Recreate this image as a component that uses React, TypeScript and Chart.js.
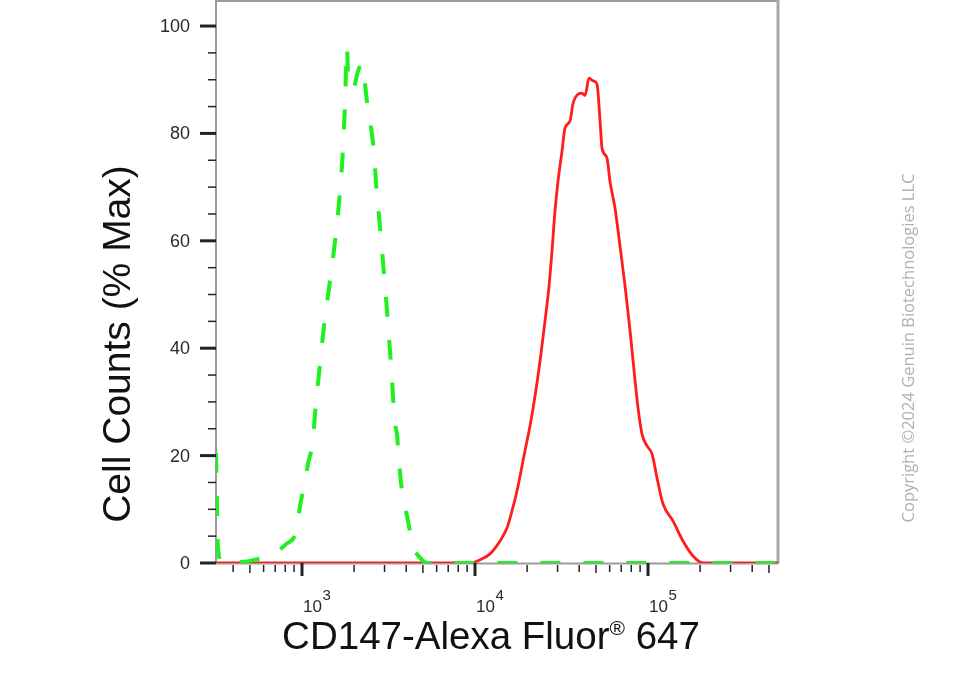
import React, { useEffect, useRef } from "react";
import { Chart, registerables } from "chart.js";

Chart.register(...registerables);

// ---- data ----
const X_MIN = 318.4;
const X_MAX = 564000;
const Y_MIN = 0;
const Y_MAX = 104.66;

const GREEN_X = [318.4, 327, 345, 500, 628, 809, 936, 974, 1027, 1083, 1158, 1189, 1270, 1359, 1452, 1553, 1660, 1727, 1774, 1820, 1845, 1972, 2108, 2223, 2313, 2409, 2507, 2608, 2714, 2787, 2940, 3099, 3267, 3448, 3540, 3636, 3735, 3889, 4101, 4384, 4811, 5279, 564000];
const GREEN_Y = [20.5, 3, 0, 0.4, 1.3, 3.5, 6.5, 10.6, 14.3, 18.4, 23, 27.7, 37, 45.8, 52.5, 60, 69.3, 77.3, 86, 96, 91.2, 88.3, 91.6, 93, 89.2, 84.2, 81, 76.4, 68, 64.6, 56, 47, 37, 26, 24, 19, 15, 11.5, 7.8, 3.2, 1, 0, 0];

const RED_X = [318.4, 9354, 10690, 12210, 13950, 15300, 16360, 17490, 18450, 19450, 20790, 22230, 23760, 25400, 26790, 27860, 28980, 30190, 31840, 33110, 35400, 36810, 39370, 41520, 43250, 45600, 48080, 50700, 52830, 54200, 57950, 60260, 64440, 68890, 73660, 78750, 84180, 87550, 92320, 98700, 105500, 112800, 122100, 139600, 159300, 182000, 208000, 564000];
const RED_Y = [0, 0, 0.6, 1.7, 4.1, 6.5, 9.7, 13.4, 17.1, 20.9, 25.5, 31.1, 37.6, 45.1, 51.6, 58.1, 65.5, 71.1, 76.7, 81.0, 82.3, 85.5, 87.3, 87.5, 87.1, 90.3, 89.8, 89.2, 82.3, 77.3, 75.4, 71.1, 66.1, 59.0, 51.6, 43.2, 33.9, 28.9, 24.0, 21.8, 20.3, 15.8, 11.0, 7.8, 4.1, 1.3, 0, 0];

const X_MAJOR_TICKS = [1000, 10000, 100000];
const X_MAJOR_EXPONENTS = ["3", "4", "5"];
const X_MINOR_TICKS = [400, 500, 600, 700, 800, 900, 2000, 3000, 4000, 5000, 6000, 7000, 8000, 9000, 20000, 30000, 40000, 50000, 60000, 70000, 80000, 90000, 200000, 300000, 400000, 500000];
const Y_MAJOR_TICKS = [0, 20, 40, 60, 80, 100];
const Y_MINOR_TICKS = [5, 10, 15, 25, 30, 35, 45, 50, 55, 65, 70, 75, 85, 90, 95];

const Y_TITLE = "Cell Counts (% Max)";
const X_TITLE_MAIN = "CD147-Alexa Fluor";
const X_TITLE_SUP = "®";
const X_TITLE_END = " 647";
const COPYRIGHT = "Copyright ©2024 Genuin Biotechnologies LLC";

const FONT = '"Liberation Sans", Arial, Helvetica, sans-serif';

const frame = {
  id: "frame",
  beforeDatasetsDraw(chart: any) {
    const { ctx, chartArea: a } = chart;
    ctx.save();
    ctx.strokeStyle = "#9c9c9c";
    ctx.lineWidth = 2;
    ctx.beginPath();
    ctx.moveTo(a.left, a.top);
    ctx.lineTo(a.right, a.top);
    ctx.moveTo(a.left, a.top - 1);
    ctx.lineTo(a.left, a.bottom + 1);
    ctx.moveTo(a.left, a.bottom + 0.5);
    ctx.lineTo(a.right, a.bottom + 0.5);
    ctx.stroke();
    ctx.lineWidth = 3;
    ctx.strokeStyle = "#a8a8a8";
    ctx.beginPath();
    ctx.moveTo(a.right, a.top - 1);
    ctx.lineTo(a.right, a.bottom + 1);
    ctx.stroke();
    ctx.restore();
  },
  afterDraw(chart: any) {
    const { ctx, chartArea: a } = chart;
    const xs = chart.scales.x;
    const ys = chart.scales.y;
    ctx.save();
    ctx.strokeStyle = "#222";
    // y ticks
    Y_MAJOR_TICKS.forEach((v) => {
      const y = ys.getPixelForValue(v);
      ctx.lineWidth = 3;
      ctx.beginPath();
      ctx.moveTo(a.left - 16, y);
      ctx.lineTo(a.left, y);
      ctx.stroke();
    });
    Y_MINOR_TICKS.forEach((v) => {
      const y = ys.getPixelForValue(v);
      ctx.lineWidth = 1.5;
      ctx.beginPath();
      ctx.moveTo(a.left - 8, y);
      ctx.lineTo(a.left, y);
      ctx.stroke();
    });
    // x ticks
    X_MAJOR_TICKS.forEach((v) => {
      const x = xs.getPixelForValue(v);
      ctx.lineWidth = 3;
      ctx.beginPath();
      ctx.moveTo(x, a.bottom);
      ctx.lineTo(x, a.bottom + 13);
      ctx.stroke();
    });
    X_MINOR_TICKS.forEach((v) => {
      const x = xs.getPixelForValue(v);
      const s = String(v)[0];
      ctx.lineWidth = 1.5;
      ctx.beginPath();
      ctx.moveTo(x, a.bottom + 2);
      ctx.lineTo(x, a.bottom + (s === "5" ? 10 : 9));
      ctx.stroke();
    });
    // y labels
    ctx.fillStyle = "#2a2a2a";
    ctx.font = `18px ${FONT}`;
    ctx.textAlign = "right";
    ctx.textBaseline = "middle";
    Y_MAJOR_TICKS.forEach((v) => {
      ctx.fillText(String(v), a.left - 26, ys.getPixelForValue(v) + 1);
    });
    // x labels with superscripts
    ctx.textAlign = "left";
    ctx.textBaseline = "alphabetic";
    X_MAJOR_TICKS.forEach((v, i) => {
      const x = xs.getPixelForValue(v) + 1;
      ctx.font = `17px ${FONT}`;
      ctx.fillText("10", x, a.bottom + 49);
      const w = ctx.measureText("10").width;
      ctx.font = `15px ${FONT}`;
      ctx.fillText(X_MAJOR_EXPONENTS[i], x + w + 0.5, a.bottom + 37);
    });
    // x title
    ctx.fillStyle = "#111";
    ctx.font = `38.5px ${FONT}`;
    const w1 = ctx.measureText(X_TITLE_MAIN).width;
    const w3 = ctx.measureText(X_TITLE_END).width;
    ctx.font = `21px ${FONT}`;
    const w2 = ctx.measureText(X_TITLE_SUP).width;
    const total = w1 + w2 + w3;
    let sx = 491 - total / 2;
    const by = a.bottom + 86;
    ctx.font = `38.5px ${FONT}`;
    ctx.fillText(X_TITLE_MAIN, sx, by);
    sx += w1;
    ctx.font = `21px ${FONT}`;
    ctx.fillText(X_TITLE_SUP, sx, by - 14);
    sx += w2;
    ctx.font = `38.5px ${FONT}`;
    ctx.fillText(X_TITLE_END, sx, by);
    // y title
    ctx.save();
    ctx.translate(130, 344);
    ctx.rotate(-Math.PI / 2);
    ctx.textAlign = "center";
    ctx.font = `39px ${FONT}`;
    ctx.fillText(Y_TITLE, 0, 0);
    ctx.restore();
    // copyright
    ctx.save();
    ctx.translate(914, 348);
    ctx.rotate(-Math.PI / 2);
    ctx.textAlign = "center";
    ctx.fillStyle = "#b0b0b0";
    ctx.font = `16.5px "Open Sans", "Noto Sans", sans-serif`;
    ctx.fillText(COPYRIGHT, 0, 0);
    ctx.restore();
    ctx.restore();
  },
};

export default function App() {
  const ref = useRef<HTMLCanvasElement | null>(null);
  useEffect(() => {
    if (!ref.current) return;
    const chart = new Chart(ref.current, {
      type: "line",
      data: {
        datasets: [
          {
            label: "Isotype",
            data: GREEN_X.map((x, i) => ({ x, y: GREEN_Y[i] })),
            borderColor: "#1ff01f",
            borderWidth: 4,
            borderDash: [20, 23],
            borderCapStyle: "butt",
            pointRadius: 0,
            cubicInterpolationMode: "monotone",
            fill: false,
          },
          {
            label: "CD147",
            data: RED_X.map((x, i) => ({ x, y: RED_Y[i] })),
            borderColor: "#ff1c1c",
            borderWidth: 2.8,
            pointRadius: 0,
            cubicInterpolationMode: "monotone",
            fill: false,
          },
        ],
      },
      options: {
        responsive: false,
        animation: false,
        devicePixelRatio: 1,
        layout: { padding: { left: 216, right: 179, top: 1, bottom: 137 } },
        plugins: { legend: { display: false }, tooltip: { enabled: false } },
        scales: {
          x: { type: "logarithmic", min: X_MIN, max: X_MAX, display: false },
          y: { type: "linear", min: Y_MIN, max: Y_MAX, display: false },
        },
      },
      plugins: [frame],
    } as any);
    return () => chart.destroy();
  }, []);
  return (
    <div style={{ position: "fixed", left: 0, top: 0, width: 957, height: 700, background: "#fff" }}>
      <canvas ref={ref} width={957} height={700} />
    </div>
  );
}
